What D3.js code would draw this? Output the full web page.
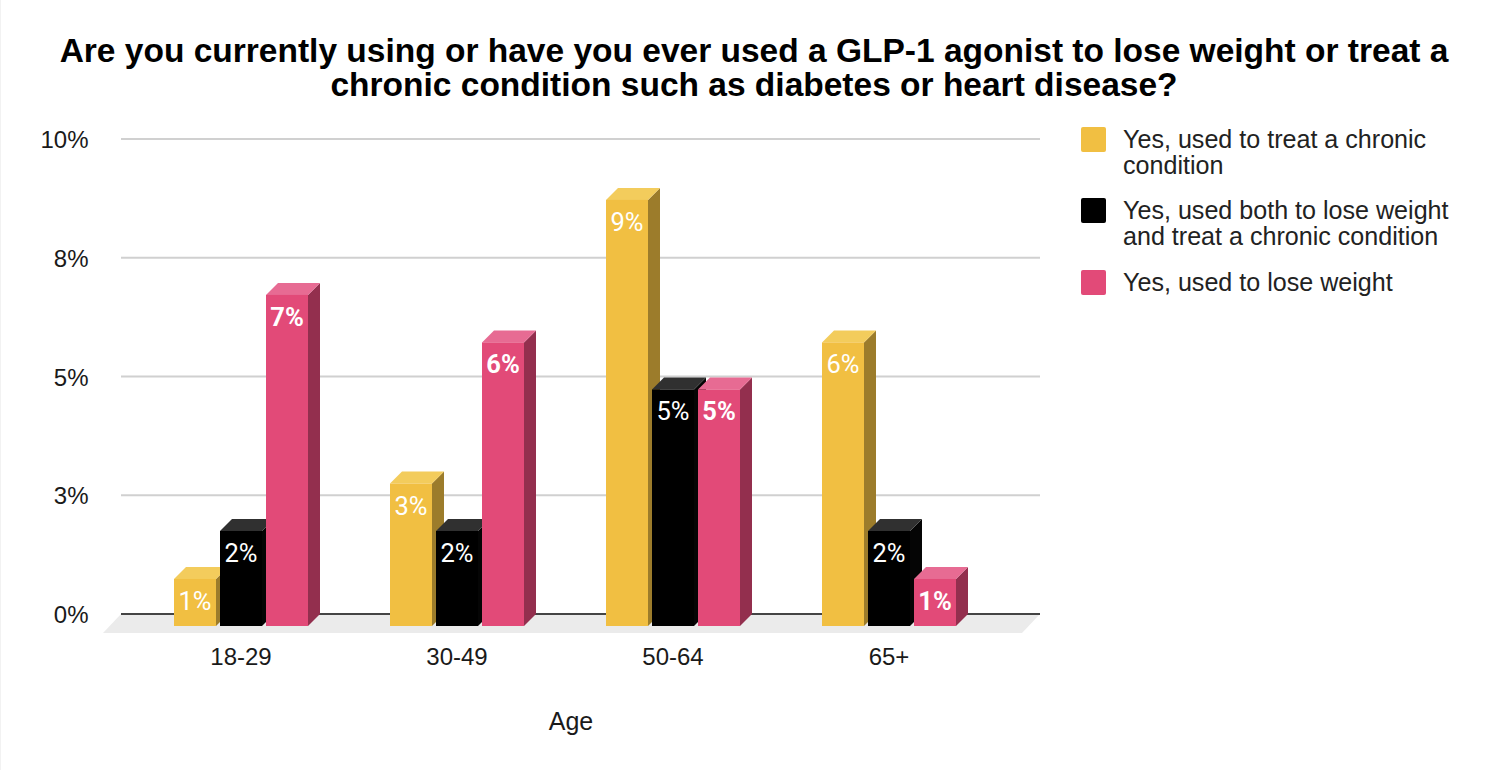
<!DOCTYPE html>
<html>
<head>
<meta charset="utf-8">
<script src="https://cdnjs.cloudflare.com/ajax/libs/d3/7.8.5/d3.min.js"></script>
<style>
html,body{margin:0;padding:0;background:#fff;overflow:hidden}
svg{display:block}
text{font-family:"Liberation Sans",Arial,sans-serif}
</style>
</head>
<body>
<svg id="chart" width="1508" height="770"></svg>
<script>
const titleLines = ["Are you currently using or have you ever used a GLP-1 agonist to lose weight or treat a","chronic condition such as diabetes or heart disease?"];
const ages = ["18-29","30-49","50-64","65+"];
const seriesNames = ["Yes, used to treat a chronic condition","Yes, used both to lose weight and treat a chronic condition","Yes, used to lose weight"];
const legendLines = [["Yes, used to treat a chronic","condition"],["Yes, used both to lose weight","and treat a chronic condition"],["Yes, used to lose weight"]];
const chronicValues = [0.99,3,8.97,5.97];
const bothValues = [2,2,4.98,2];
const loseValues = [6.97,5.97,4.98,0.99];
const allValues = [chronicValues,bothValues,loseValues];
const tickValues = [0,2.5,5,7.5,10];
const tickLabels = ["0%","3%","5%","8%","10%"];
const frontColors = ["#f1bf42","#000000","#e24a78"];
const topColors = ["#f3cc5c","#303030","#e76b93"];
const sideColors = ["#9c7c2b","#050505","#932f4e"];
const labelWeights = ["400","400","700"];

const svg = d3.select("#chart");
const depth = 12;
const y = d3.scaleLinear().domain([0,10]).range([614,139]);
const x0 = d3.scaleBand().domain(ages).range([133,997]);
const x1 = d3.scaleBand().domain(seriesNames).range([0,134]).paddingInner(4/46);

svg.append("rect").attr("x",0).attr("y",0).attr("width",1).attr("height",770).attr("fill","#f2f2f2");

svg.append("g").selectAll("text").data(titleLines).join("text")
  .attr("x",754).attr("y",(d,i)=>61.5+i*34)
  .attr("text-anchor","middle").attr("font-size",33.5).attr("font-weight",700).attr("fill","#000")
  .text(d=>d);

// floor
svg.append("path")
  .attr("d",`M121,${y(0)}H1040L1022,633H103Z`)
  .attr("fill","#ebebeb");

// grid
svg.append("g").selectAll("line").data(tickValues.filter(t=>t>0)).join("line")
  .attr("x1",121).attr("x2",1040).attr("y1",d=>y(d)).attr("y2",d=>y(d))
  .attr("stroke","#d0d0d0").attr("stroke-width",2);
svg.append("line").attr("x1",121).attr("x2",1040).attr("y1",y(0)).attr("y2",y(0))
  .attr("stroke","#444").attr("stroke-width",2);

// y labels
svg.append("g").selectAll("text").data(tickValues).join("text")
  .attr("x",88.5).attr("y",d=>y(d)+9).attr("text-anchor","end")
  .attr("font-size",24).attr("fill","#1a1a1a")
  .text((d,i)=>tickLabels[i]);

// bars
const bw = x1.bandwidth();
ages.forEach((age,ai)=>{
  seriesNames.forEach((name,si)=>{
    const v = allValues[si][ai];
    const xl = x0.bandwidth()/2 + x0(age) - 67 + x1(name);
    const top = y(v)+depth, bot = y(0)+depth;
    const g = svg.append("g");
    g.append("path").attr("fill",sideColors[si])
      .attr("d",`M${xl+bw},${top}L${xl+bw+depth},${top-depth}V${bot-depth}L${xl+bw},${bot}Z`);
    g.append("path").attr("fill",topColors[si])
      .attr("d",`M${xl},${top}L${xl+depth},${top-depth}H${xl+bw+depth}L${xl+bw},${top}Z`);
    g.append("rect").attr("x",xl).attr("y",top).attr("width",bw).attr("height",bot-top).attr("fill",frontColors[si]);
    g.append("text").attr("x",xl+bw/2).attr("y",top+31).attr("text-anchor","middle")
      .style("font-family","Roboto").attr("font-size",25.5).attr("font-weight",labelWeights[si]).attr("fill","#fff")
      .text(Math.round(v)+"%");
  });
});

// x labels
svg.append("g").selectAll("text").data(ages).join("text")
  .attr("x",d=>x0(d)+x0.bandwidth()/2).attr("y",665).attr("text-anchor","middle")
  .attr("font-size",24).attr("fill","#1a1a1a").text(d=>d);

svg.append("text").attr("x",571).attr("y",730).attr("text-anchor","middle")
  .attr("font-size",25).attr("fill","#1a1a1a").text("Age");

// legend
const legendTops = [127,198,270];
const lg = svg.append("g").selectAll("g").data(seriesNames).join("g")
  .attr("transform",(d,i)=>`translate(1081,${legendTops[i]})`);
lg.append("rect").attr("width",25).attr("height",25).attr("rx",2).attr("fill",(d,i)=>frontColors[i]);
lg.each(function(d,i){
  d3.select(this).selectAll("text").data(legendLines[i]).join("text")
    .attr("x",42).attr("y",(t,j)=>21+j*25.5)
    .attr("font-size",25.1).attr("fill","#222").text(t=>t);
});
</script>
</body>
</html>
